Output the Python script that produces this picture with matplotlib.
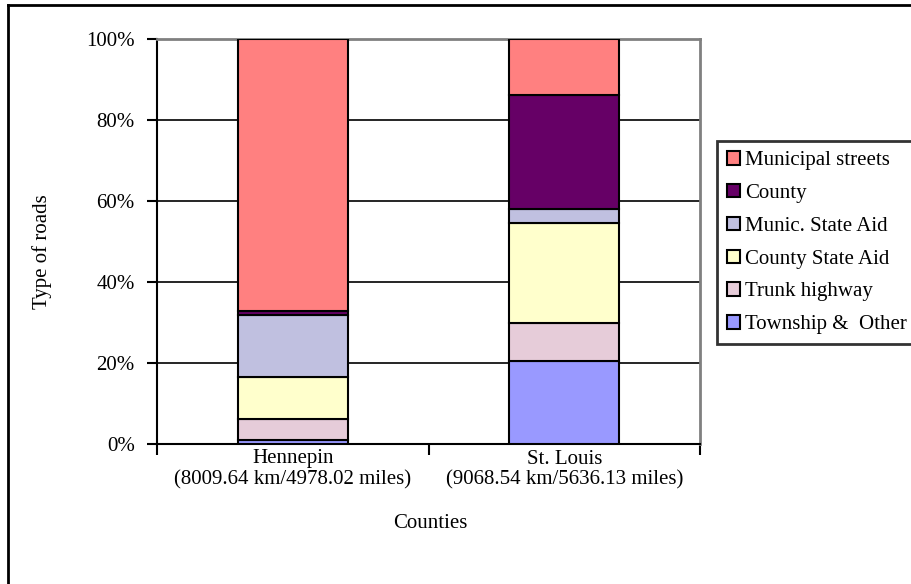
import matplotlib
matplotlib.use("Agg")
import matplotlib.pyplot as plt
from matplotlib.patches import Patch
from matplotlib.lines import Line2D
import numpy as np

plt.rcParams["font.family"] = ["Liberation Serif", "DejaVu Serif"]

counties = ["Hennepin\n(8009.64 km/4978.02 miles)",
            "St. Louis\n(9068.54 km/5636.13 miles)"]

# share of road length per type, bottom to top (%)
township  = [1.0, 20.5]
trunk     = [5.2, 9.5]
county_sa = [10.4, 24.6]
munic_sa  = [15.3, 3.4]
county    = [0.9, 28.2]
municipal = [67.2, 13.8]

series = [
    ("Township &  Other", township, "#9999FF"),
    ("Trunk highway", trunk, "#E6CCD9"),
    ("County State Aid", county_sa, "#FFFFCC"),
    ("Munic. State Aid", munic_sa, "#C0C0E0"),
    ("County", county, "#660066"),
    ("Municipal streets", municipal, "#FF8080"),
]

FS = 15
W, H = 911, 584
fig = plt.figure(figsize=(W / 100, H / 100), dpi=100)

def fx(px):
    return px / W

def fy(py):
    return 1 - py / H

# outer chart frame
fig.add_artist(Line2D([fx(8), fx(8)], [0, fy(5)], transform=fig.transFigure,
                      color="black", lw=2))
fig.add_artist(Line2D([fx(8), 1], [fy(5), fy(5)], transform=fig.transFigure,
                      color="black", lw=2))

ax = fig.add_axes([fx(157), fy(444), (700 - 157) / W, (444 - 39) / H])

x = np.arange(len(counties))
bottom = np.zeros(len(counties))
for name, vals, col in series:
    ax.bar(x, vals, width=0.405, bottom=bottom, color=col,
           edgecolor="black", linewidth=1.5, zorder=3)
    bottom += np.array(vals)

ax.set_xlim(-0.5, 1.5)
ax.set_ylim(0, 100)
ax.set_yticks(np.arange(0, 101, 20))
ax.set_yticklabels([f"{v}%" for v in range(0, 101, 20)], fontsize=FS)
for y in range(20, 100, 20):
    ax.axhline(y, color="black", lw=1.2, zorder=1)

ax.set_xticks([-0.5, 0.5, 1.5])
ax.set_xticklabels([])
ax.tick_params(axis="x", direction="out", length=8, width=1.5)
ax.tick_params(axis="y", direction="out", length=7, width=1.5, pad=9)

# category labels (two lines each) under the bars
for xi, lab in zip(x, counties):
    name, dist = lab.split("\n")
    xf = ax.transData.transform((xi, 0))[0] / W
    fig.text(xf, fy(459), name, ha="center", va="center", fontsize=FS)
    fig.text(xf, fy(480), dist, ha="center", va="center", fontsize=FS)

fig.text(fx(430), fy(523), "Counties", ha="center", va="center", fontsize=FS)
fig.text(fx(42), fy(252), "Type of roads", ha="center", va="center",
         rotation=90, fontsize=FS)

for s in ("left", "bottom"):
    ax.spines[s].set_color("black")
    ax.spines[s].set_linewidth(1.5)
for s in ("top", "right"):
    ax.spines[s].set_color("#808080")
    ax.spines[s].set_linewidth(2)

handles = [Patch(facecolor=col, edgecolor="black", linewidth=1.5, label=name)
           for name, vals, col in series[::-1]]
leg = fig.legend(handles=handles, loc="upper left",
                 bbox_to_anchor=(fx(717), fy(141)),
                 fontsize=FS, frameon=True, fancybox=False,
                 handlelength=0.62, handleheight=0.62, handletextpad=0.25,
                 labelspacing=0.66, borderpad=0.48, borderaxespad=0)
leg.get_frame().set_edgecolor("black")
leg.get_frame().set_linewidth(2)

fig.savefig("out.png", dpi=100)
